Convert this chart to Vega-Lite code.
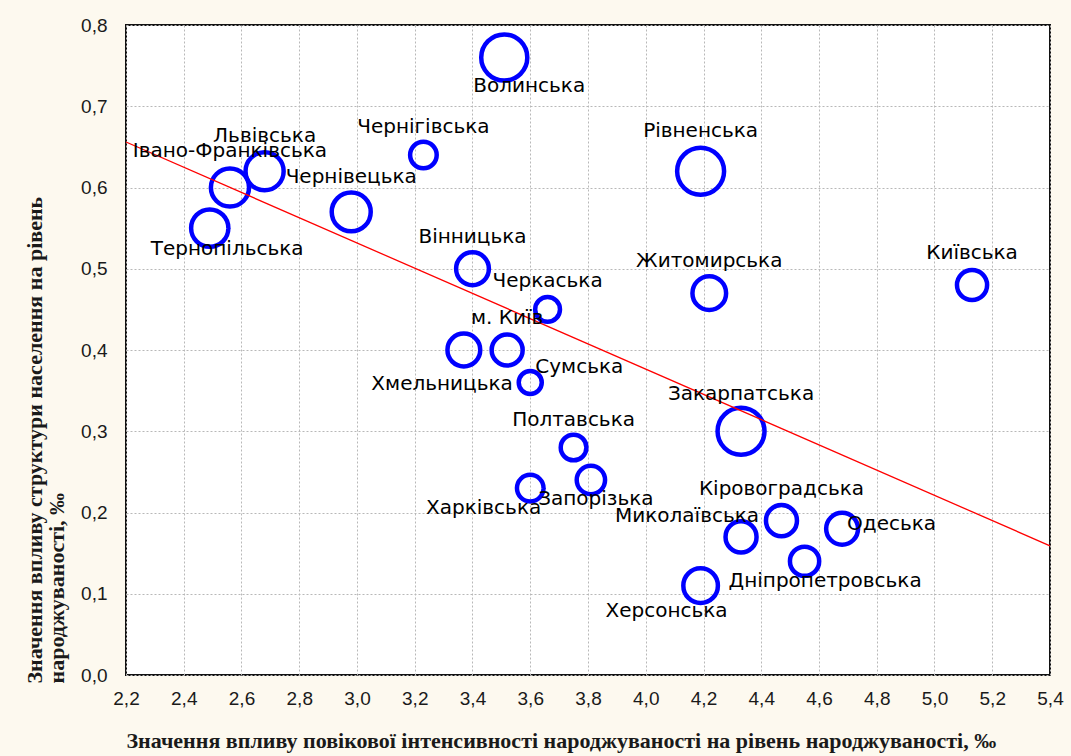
{
  "$schema": "https://vega.github.io/schema/vega-lite/v6.json",
  "width": 924,
  "height": 650,
  "autosize": {"type": "none"},
  "padding": {"left": 126, "top": 25, "right": 21, "bottom": 81},
  "background": "#fdf9ef",
  "config": {
    "view": {"fill": "white", "stroke": "#111", "strokeWidth": 2},
    "axis": {
      "labelFont": "Liberation Sans", "labelFontSize": 19, "labelColor": "#1a1a1a",
      "titleFont": "Liberation Serif", "titleFontWeight": "bold", "titleFontSize": 22, "titleColor": "#1a1a1a",
      "grid": true, "gridColor": "#b8b8b8", "gridDash": [2, 2], "gridWidth": 1,
      "domain": false, "ticks": false
    },
    "text": {"font": "DejaVu Sans", "fontSize": 20, "color": "#000", "baseline": "middle"}
  },
  "datasets": {
    "regions": [
      {"name": "Волинська", "x": 3.51, "y": 0.76, "r": 26},
      {"name": "Рівненська", "x": 4.19, "y": 0.62, "r": 26.5},
      {"name": "Чернігівська", "x": 3.23, "y": 0.64, "r": 15},
      {"name": "Чернівецька", "x": 2.98, "y": 0.57, "r": 22},
      {"name": "Вінницька", "x": 3.40, "y": 0.50, "r": 18.5},
      {"name": "Черкаська", "x": 3.66, "y": 0.45, "r": 14},
      {"name": "Житомирська", "x": 4.22, "y": 0.47, "r": 19},
      {"name": "Київська", "x": 5.13, "y": 0.48, "r": 17},
      {"name": "м. Київ", "x": 3.52, "y": 0.40, "r": 17.5},
      {"name": "Хмельницька", "x": 3.37, "y": 0.40, "r": 18.5},
      {"name": "Сумська", "x": 3.60, "y": 0.36, "r": 13},
      {"name": "Закарпатська", "x": 4.33, "y": 0.30, "r": 26.5},
      {"name": "Полтавська", "x": 3.75, "y": 0.28, "r": 14.5},
      {"name": "Запорізька", "x": 3.81, "y": 0.24, "r": 16},
      {"name": "Харківська", "x": 3.60, "y": 0.23, "r": 15},
      {"name": "Кіровоградська", "x": 4.47, "y": 0.19, "r": 17.5},
      {"name": "Миколаївська", "x": 4.33, "y": 0.17, "r": 17.5},
      {"name": "Одеська", "x": 4.68, "y": 0.18, "r": 18},
      {"name": "Дніпропетровська", "x": 4.55, "y": 0.14, "r": 16.5},
      {"name": "Херсонська", "x": 4.19, "y": 0.11, "r": 19.5},
      {"name": "Тернопільська", "x": 2.49, "y": 0.55, "r": 21},
      {"name": "Івано-Франківська", "x": 2.56, "y": 0.60, "r": 21.5},
      {"name": "Львівська", "x": 2.68, "y": 0.62, "r": 21.5}
    ],
    "fit": [
      {"x": 2.2, "y": 0.656},
      {"x": 5.4, "y": 0.159}
    ]
  },
  "data": {"name": "regions"},
  "encoding": {
    "x": {
      "field": "x", "type": "quantitative",
      "scale": {"domain": [2.2, 5.4], "nice": false, "zero": false},
      "axis": {
        "values": [2.2, 2.4, 2.6, 2.8, 3.0, 3.2, 3.4, 3.6, 3.8, 4.0, 4.2, 4.4, 4.6, 4.8, 5.0, 5.2, 5.4],
        "labelExpr": "replace(format(datum.value, '.1f'), '.', ',')",
        "labelPadding": 14, "labelFlush": false, "labelOverlap": false,
        "title": "Значення впливу повікової інтенсивності народжуваності на рівень народжуваності, ‰",
        "titleX": 0, "titleY": 72, "titleAlign": "left", "titleAnchor": "start", "titleBaseline": "alphabetic"
      }
    },
    "y": {
      "field": "y", "type": "quantitative",
      "scale": {"domain": [0, 0.8], "nice": false, "zero": false},
      "axis": {
        "values": [0, 0.1, 0.2, 0.3, 0.4, 0.5, 0.6, 0.7, 0.8],
        "labelExpr": "replace(format(datum.value, '.1f'), '.', ',')",
        "labelPadding": 19, "labelFlush": false, "labelOverlap": false,
        "title": ["Значення впливу структури населення на рівень", "народжуваності, ‰"],
        "titleAngle": 270, "titleX": -85, "titleY": 658, "titleAlign": "left", "titleAnchor": "start",
        "titleBaseline": "alphabetic", "titleLineHeight": 22
      }
    }
  },
  "layer": [
    {
      "mark": {"type": "point", "shape": "circle", "filled": false, "stroke": "#0000ff", "strokeWidth": 4.5, "opacity": 1},
      "encoding": {
        "size": {"field": "r", "type": "quantitative", "legend": null,
                 "scale": {"type": "pow", "exponent": 2, "domain": [0, 30], "range": [0, 2827]}}
      }
    },
    {
      "data": {"name": "fit"},
      "mark": {"type": "line", "color": "#ff0000", "strokeWidth": 1.3},
      "encoding": {}
    },
    {
      "transform": [{"filter": {"field": "name", "oneOf": ["Чернігівська", "Черкаська", "Полтавська"]}}],
      "mark": {"type": "text", "align": "center", "dy": -28},
      "encoding": {"text": {"field": "name"}}
    },
    {
      "transform": [{"filter": {"field": "name", "oneOf": ["Вінницька", "Житомирська", "Київська", "м. Київ", "Кіровоградська"]}}],
      "mark": {"type": "text", "align": "center", "dy": -32},
      "encoding": {"text": {"field": "name"}}
    },
    {
      "transform": [{"filter": {"field": "name", "oneOf": ["Чернівецька", "Львівська"]}}],
      "mark": {"type": "text", "align": "center", "dy": -35},
      "encoding": {"text": {"field": "name"}}
    },
    {
      "transform": [{"filter": {"field": "name", "oneOf": ["Закарпатська", "Івано-Франківська"]}}],
      "mark": {"type": "text", "align": "center", "dy": -37},
      "encoding": {"text": {"field": "name"}}
    },
    {
      "transform": [{"filter": {"field": "name", "equal": "Рівненська"}}],
      "mark": {"type": "text", "align": "center", "dy": -40},
      "encoding": {"text": {"field": "name"}}
    },
    {
      "transform": [{"filter": {"field": "name", "equal": "Волинська"}}],
      "mark": {"type": "text", "align": "left", "dx": -31, "dy": 28},
      "encoding": {"text": {"field": "name"}}
    },
    {
      "transform": [{"filter": {"field": "name", "equal": "Хмельницька"}}],
      "mark": {"type": "text", "align": "right", "dx": 49, "dy": 34},
      "encoding": {"text": {"field": "name"}}
    },
    {
      "transform": [{"filter": {"field": "name", "equal": "Сумська"}}],
      "mark": {"type": "text", "align": "left", "dx": 5, "dy": -16},
      "encoding": {"text": {"field": "name"}}
    },
    {
      "transform": [{"filter": {"field": "name", "equal": "Запорізька"}}],
      "mark": {"type": "text", "align": "center", "dx": 5, "dy": 19},
      "encoding": {"text": {"field": "name"}}
    },
    {
      "transform": [{"filter": {"field": "name", "equal": "Харківська"}}],
      "mark": {"type": "text", "align": "right", "dx": 11, "dy": 20},
      "encoding": {"text": {"field": "name"}}
    },
    {
      "transform": [{"filter": {"field": "name", "equal": "Миколаївська"}}],
      "mark": {"type": "text", "align": "right", "dx": 18, "dy": -21},
      "encoding": {"text": {"field": "name"}}
    },
    {
      "transform": [{"filter": {"field": "name", "equal": "Одеська"}}],
      "mark": {"type": "text", "align": "left", "dx": 5, "dy": -5},
      "encoding": {"text": {"field": "name"}}
    },
    {
      "transform": [{"filter": {"field": "name", "equal": "Дніпропетровська"}}],
      "mark": {"type": "text", "align": "left", "dx": -76, "dy": 20},
      "encoding": {"text": {"field": "name"}}
    },
    {
      "transform": [{"filter": {"field": "name", "equal": "Херсонська"}}],
      "mark": {"type": "text", "align": "right", "dx": 27, "dy": 25},
      "encoding": {"text": {"field": "name"}}
    },
    {
      "transform": [{"filter": {"field": "name", "equal": "Тернопільська"}}],
      "mark": {"type": "text", "align": "left", "dx": -59, "dy": 21},
      "encoding": {"text": {"field": "name"}}
    }
  ]
}
